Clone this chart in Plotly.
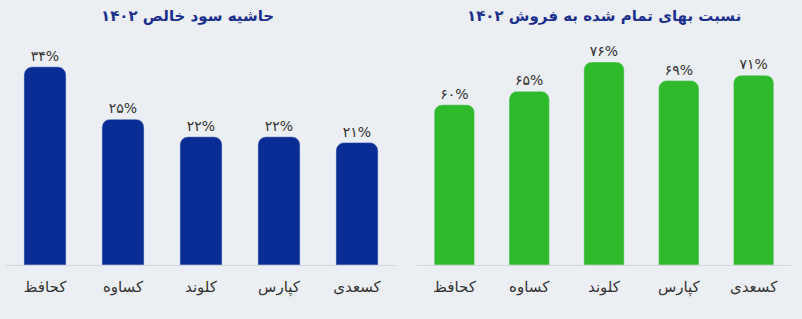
import plotly.graph_objects as go
from plotly.subplots import make_subplots

companies = ["کحافظ", "کساوه", "کلوند", "کپارس", "کسعدی"]
net_margin = [34, 25, 22, 22, 21]
cost_ratio = [60, 65, 76, 69, 71]
title_left = "حاشیه سود خالص ۱۴۰۲"
title_right = "نسبت بهای تمام شده به فروش ۱۴۰۲"

fa_digits = str.maketrans("0123456789", "۰۱۲۳۴۵۶۷۸۹")
def fa(v):
    return str(v).translate(fa_digits) + "%"

W, H = 802, 319
T, B = 40, 54
PH = H - T - B
blue = "#0a2c95"
green = "#2fba2c"
bg = "#ebeef2"
font_fam = "DejaVu Sans, Noto Sans, sans-serif"

fig = make_subplots(rows=1, cols=2)
fig.add_trace(go.Bar(x=companies, y=net_margin, text=[fa(v) for v in net_margin],
                     textposition="outside", marker=dict(color=blue, cornerradius=8),
                     textfont=dict(size=14, color="#333333", family=font_fam),
                     cliponaxis=False, showlegend=False), row=1, col=1)
fig.add_trace(go.Bar(x=companies, y=cost_ratio, text=[fa(v) for v in cost_ratio],
                     textposition="outside", marker=dict(color=green, cornerradius=8),
                     textfont=dict(size=14, color="#333333", family=font_fam),
                     cliponaxis=False, showlegend=False), row=1, col=2)

axis_common = dict(showgrid=False, showline=True, linecolor="#d3d7dd", linewidth=1,
                   ticks="", ticklabelstandoff=8,
                   tickfont=dict(size=15, color="#333333", family=font_fam))
fig.update_xaxes(**axis_common)
title_y = 1 + (T - 16) / PH
fig.update_layout(
    xaxis=dict(domain=[6 / W, 396 / W]),
    xaxis2=dict(domain=[417 / W, 791 / W]),
    yaxis=dict(range=[0, 38.6], visible=False),
    yaxis2=dict(range=[0, 84.2], visible=False),
    bargap=0.46,
    width=W, height=H,
    margin=dict(l=0, r=0, t=T, b=B),
    paper_bgcolor=bg, plot_bgcolor=bg,
    font=dict(family=font_fam),
    annotations=[
        dict(text=f"<b>{title_left}</b>", x=187 / W, y=title_y, xref="paper", yref="paper",
             showarrow=False, font=dict(size=15, color="#1b2f8c", family=font_fam),
             xanchor="center", yanchor="middle"),
        dict(text=f"<b>{title_right}</b>", x=604 / W, y=title_y, xref="paper", yref="paper",
             showarrow=False, font=dict(size=15, color="#1b2f8c", family=font_fam),
             xanchor="center", yanchor="middle"),
    ],
)
fig.write_html("out.html")
